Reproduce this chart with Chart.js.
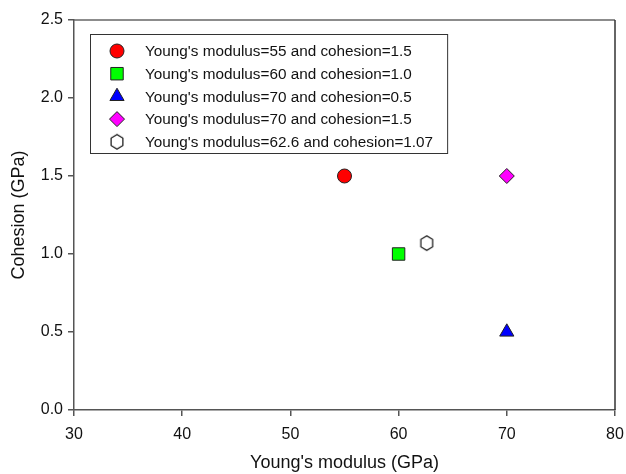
<!DOCTYPE html>
<html>
<head>
<meta charset="utf-8">
<script src="https://cdn.jsdelivr.net/npm/chart.js@4"></script>
<style>
  html,body{margin:0;padding:0;background:#fff;}
  #wrap{width:626px;height:474px;}
</style>
</head>
<body>
<div id="wrap"><canvas id="c" width="626" height="474"></canvas></div>
<script>
// data
const labels = [
  "Young's modulus=55 and cohesion=1.5",
  "Young's modulus=60 and cohesion=1.0",
  "Young's modulus=70 and cohesion=0.5",
  "Young's modulus=70 and cohesion=1.5",
  "Young's modulus=62.6 and cohesion=1.07"
];
const youngs = [55, 60, 70, 70, 62.6];
const cohesion = [1.5, 1.0, 0.5, 1.5, 1.07];
const xTicks = [30, 40, 50, 60, 70, 80];
const yTicks = [0, 0.5, 1.0, 1.5, 2.0, 2.5];

const FONT = '"Liberation Sans", Arial, sans-serif';

// hexagon marker (no built-in style for it)
function hexagon(){
  const cv = document.createElement('canvas');
  cv.width = 16; cv.height = 18;
  const g = cv.getContext('2d');
  g.beginPath();
  for(let i=0;i<6;i++){
    const a = Math.PI/2 + i*Math.PI/3;
    const px = 8 + 6.8*Math.cos(a), py = 9 - 7.3*Math.sin(a);
    i ? g.lineTo(px,py) : g.moveTo(px,py);
  }
  g.closePath();
  g.fillStyle = '#fff'; g.fill();
  g.strokeStyle = '#111'; g.lineWidth = 1.2; g.stroke();
  return cv;
}

const styles = [
  {pointStyle:'circle', radius:7, bg:'#ff0000'},
  {pointStyle:'rect', radius:8.8, bg:'#00ff00'},
  {pointStyle:'triangle', radius:8.2, bg:'#0000ff'},
  {pointStyle:'rectRot', radius:7.5, bg:'#ff00ff'},
  {pointStyle:hexagon(), radius:8, bg:'#fff'}
];

const datasets = labels.map((lab,i)=>({
  label: lab,
  data: [{x: youngs[i], y: cohesion[i]}],
  pointStyle: styles[i].pointStyle,
  pointRadius: styles[i].radius,
  pointHoverRadius: styles[i].radius,
  backgroundColor: styles[i].bg,
  borderColor: '#222',
  borderWidth: 1
}));

// frame + legend box drawn inside the plot
const frameLegend = {
  id:'frameLegend',
  afterDraw(chart){
    const {ctx, chartArea:a} = chart;
    ctx.save();
    ctx.lineWidth = 1.5;
    ctx.strokeStyle = '#666';
    ctx.beginPath(); ctx.moveTo(a.left, a.top); ctx.lineTo(a.right, a.top); ctx.stroke();
    ctx.strokeStyle = '#333';
    ctx.beginPath(); ctx.moveTo(a.right, a.top); ctx.lineTo(a.right, a.bottom); ctx.stroke();

    ctx.font = '15.3px ' + FONT;
    let w = 0;
    labels.forEach(t=>{ w = Math.max(w, ctx.measureText(t).width); });
    const bx = a.left + 16, by = a.top + 14, step = 22.7;
    const bw = 55 + w + 14, bh = 119;
    ctx.strokeStyle = '#333'; ctx.lineWidth = 1;
    ctx.strokeRect(bx + 0.5, by + 0.5, bw, bh);
    ctx.textBaseline = 'middle';
    chart.data.datasets.forEach((ds,i)=>{
      const y = by + 17 + i*step;
      ctx.fillStyle = ds.backgroundColor; ctx.strokeStyle = '#222'; ctx.lineWidth = 1;
      Chart.helpers.drawPoint(ctx, {
        pointStyle: ds.pointStyle, radius: ds.pointRadius, rotation: 0, borderWidth: 1
      }, bx + 27, y);
      ctx.fillStyle = '#111';
      ctx.fillText(ds.label, bx + 55, y + 1);
    });
    ctx.restore();
  }
};

new Chart(document.getElementById('c'), {
  type:'scatter',
  data:{datasets},
  options:{
    responsive:false,
    animation:false,
    layout:{padding:{top:20, right:11, left:0, bottom:0}},
    plugins:{legend:{display:false}, tooltip:{enabled:false}},
    scales:{
      x:{
        type:'linear', min:30, max:80,
        afterBuildTicks: s=>{ s.ticks = xTicks.map(v=>({value:v})); },
        afterFit: s=>{ s.height = 64; s.paddingLeft = 0; s.paddingRight = 0; },
        grid:{drawOnChartArea:false, drawTicks:true, tickLength:6, color:'#555', lineWidth:1.5},
        border:{color:'#555', width:1.5},
        ticks:{color:'#111', font:{family:FONT, size:16}, padding:9, maxRotation:0},
        title:{display:true, text:"Young's modulus (GPa)", color:'#111',
          font:{family:FONT, size:18}, padding:{top:13, bottom:0}}
      },
      y:{
        type:'linear', min:0, max:2.5,
        afterBuildTicks: s=>{ s.ticks = yTicks.map(v=>({value:v})); },
        afterFit: s=>{ s.width = 74; s.paddingTop = 0; s.paddingBottom = 0; },
        grid:{drawOnChartArea:false, drawTicks:true, tickLength:6, color:'#555', lineWidth:1.5},
        border:{color:'#555', width:1.5},
        ticks:{color:'#111', font:{family:FONT, size:16}, padding:5,
          callback: v=>v.toFixed(1)},
        title:{display:true, text:'Cohesion (GPa)', color:'#111',
          font:{family:FONT, size:18}, padding:{top:8, bottom:8}}
      }
    }
  },
  plugins:[frameLegend]
});
</script>
</body>
</html>
